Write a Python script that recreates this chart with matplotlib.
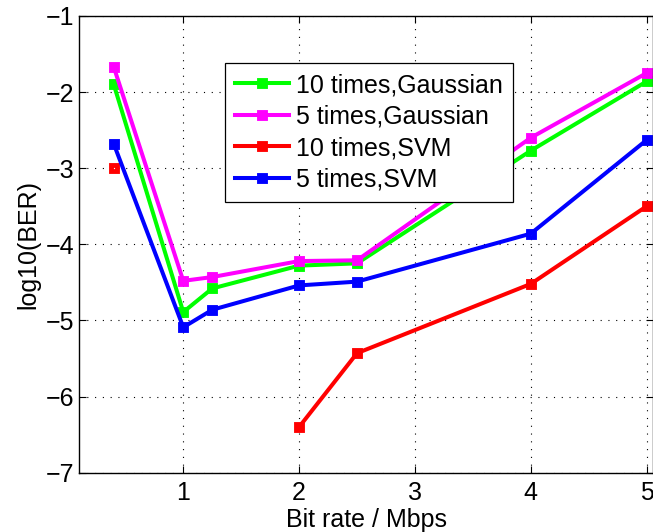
import numpy as np
import matplotlib
matplotlib.use('Agg')
import matplotlib.pyplot as plt

plt.rcParams['font.family'] = ['Liberation Sans', 'DejaVu Sans']

# data
bit_rate = [0.4, 1.0, 1.25, 2.0, 2.5, 4.0, 5.0]
gauss_10 = [-1.90, -4.89, -4.58, -4.28, -4.25, -2.77, -1.86]
gauss_5 = [-1.67, -4.48, -4.43, -4.22, -4.21, -2.60, -1.75]
svm_10 = [-3.00, np.nan, np.nan, -6.40, -5.43, -4.52, -3.50]
svm_5 = [-2.68, -5.09, -4.86, -4.54, -4.49, -3.86, -2.63]

labels = ['10 times,Gaussian', '5 times,Gaussian', '10 times,SVM', '5 times,SVM']
colors = ['#00ff00', '#ff00ff', '#ff0000', '#0000ff']

fs = 18

fig = plt.figure(figsize=(6.53, 5.32), dpi=100)
ax = fig.add_axes([0.121, 0.1115, 0.879, 0.8585])

for y, lab, c in zip([gauss_10, gauss_5, svm_10, svm_5], labels, colors):
    ax.plot(bit_rate, y, color=c, lw=2.9, marker='s', ms=5, mew=3.5,
            mfc='none', mec=c, label=lab)

ax.set_xlim(0.1, 5.055)
ax.set_ylim(-7, -1)
ax.set_xticks([1, 2, 3, 4, 5])
ax.set_yticks([-7, -6, -5, -4, -3, -2, -1])
ax.set_yticklabels(['\u22127', '\u22126', '\u22125', '\u22124', '\u22123', '\u22122', '\u22121'])
ax.grid(True, color='k', linestyle=(0, (1, 6)), lw=0.8)
ax.tick_params(direction='in', top=True, right=True, labelsize=fs, length=5, width=0.8)
ax.tick_params(axis='x', pad=6)
for s in ax.spines.values():
    s.set_linewidth(1.0)

ax.set_xlabel('Bit rate / Mbps', fontsize=fs, labelpad=2)
ax.set_ylabel('log10(BER)', fontsize=fs, labelpad=4)

leg = ax.legend(loc='upper left', bbox_to_anchor=(0.254, 0.897), borderaxespad=0,
                fontsize=fs, fancybox=False, framealpha=1, edgecolor='k',
                handlelength=2.16, handletextpad=0.3, labelspacing=0.3,
                borderpad=0.4)
leg.get_frame().set_linewidth(0.9)

fig.savefig('out.png', dpi=100)
